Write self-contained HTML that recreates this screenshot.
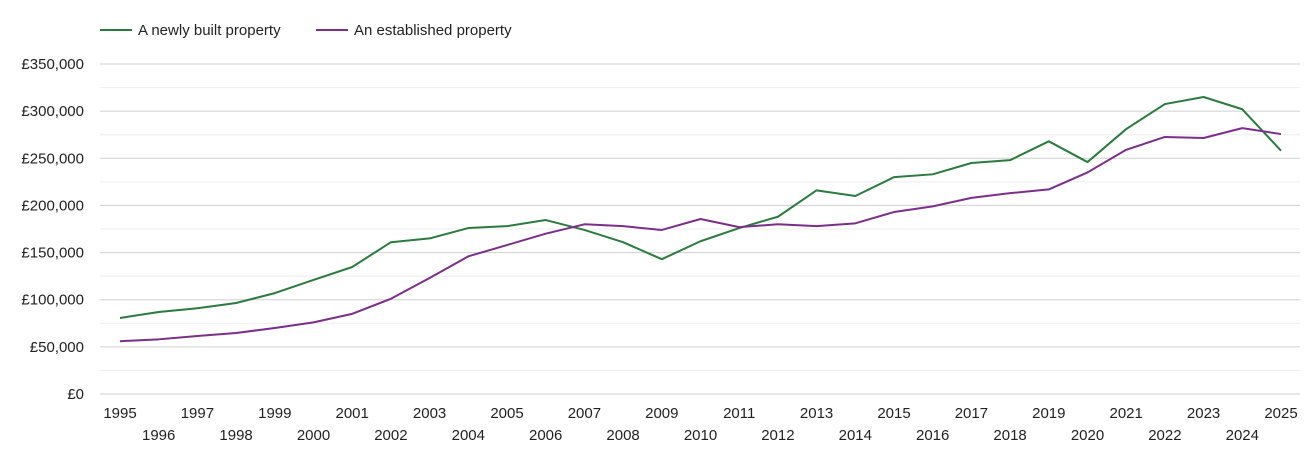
<!DOCTYPE html>
<html><head><meta charset="utf-8"><style>
body{margin:0;background:#fff;font-family:"Liberation Sans",sans-serif;}
svg text{font-family:"Liberation Sans",sans-serif;fill:#222;font-size:15px;}
</style></head><body>
<svg id="chart" width="1305" height="450" xmlns="http://www.w3.org/2000/svg">
<g id="legend">
<line x1="100" y1="30" x2="132" y2="30" stroke="#2b7a3e" stroke-width="2"/>
<text x="138" y="35">A newly built property</text>
<line x1="316" y1="30" x2="348" y2="30" stroke="#7b2e8a" stroke-width="2"/>
<text x="354" y="35">An established property</text>
</g>
<g id="grid"></g><g id="axes"></g><g id="series"></g>
</svg>
<script>
const years=[1995,1996,1997,1998,1999,2000,2001,2002,2003,2004,2005,2006,2007,2008,2009,2010,2011,2012,2013,2014,2015,2016,2017,2018,2019,2020,2021,2022,2023,2024,2025];
const newBuilt=[80.6,87,91,96.5,107,121,134.7,161,165,176,178,184.5,174,161,143,162,176,188,216,210,230,233,245,248,268,246,281,307.5,315,302,258];
const established=[56,58,61.5,64.7,70,76,85,101,123,146,158,170,180,178,174,185.6,177,180,178,181,193,199,208,213,217,235,259,272.6,271.5,282,275.7];
const yTicks=[0,50,100,150,200,250,300,350];
const yLabels=["£0","£50,000","£100,000","£150,000","£200,000","£250,000","£300,000","£350,000"];
const NS="http://www.w3.org/2000/svg";
const x=v=>120+(v-1995)*(1281-120)/30;
const y=v=>394-v*330/350;
function mk(t,a,p){const e=document.createElementNS(NS,t);for(const k in a)e.setAttribute(k,a[k]);p.appendChild(e);return e;}
const grid=document.getElementById('grid'),axes=document.getElementById('axes'),ser=document.getElementById('series');
for(let v=25;v<=350;v+=50){const l=mk('line',{x1:100,x2:1300,y1:y(v),y2:y(v),stroke:'#eee'},grid);

}
yTicks.forEach((v,i)=>{const l=mk('line',{x1:100,x2:1300,y1:y(v),y2:y(v),stroke:v===0?'#ccc':'#d0d0d0'},grid);


const t=mk('text',{x:84,y:y(v)+5,'text-anchor':'end'},axes);t.textContent=yLabels[i];

});
years.forEach((yr,i)=>{const t=mk('text',{x:x(yr),y:i%2===0?418:440,'text-anchor':'middle'},axes);t.textContent=yr;

});
function line(d,c,n){const p=mk('polyline',{points:d.map((v,i)=>x(years[i])+','+y(v)).join(' '),fill:'none',stroke:c,'stroke-width':2,'stroke-linejoin':'round'},ser);

}
line(newBuilt,'#2b7a3e','new-build-line');
line(established,'#7b2e8a','established-line');
</script>
</body></html>
